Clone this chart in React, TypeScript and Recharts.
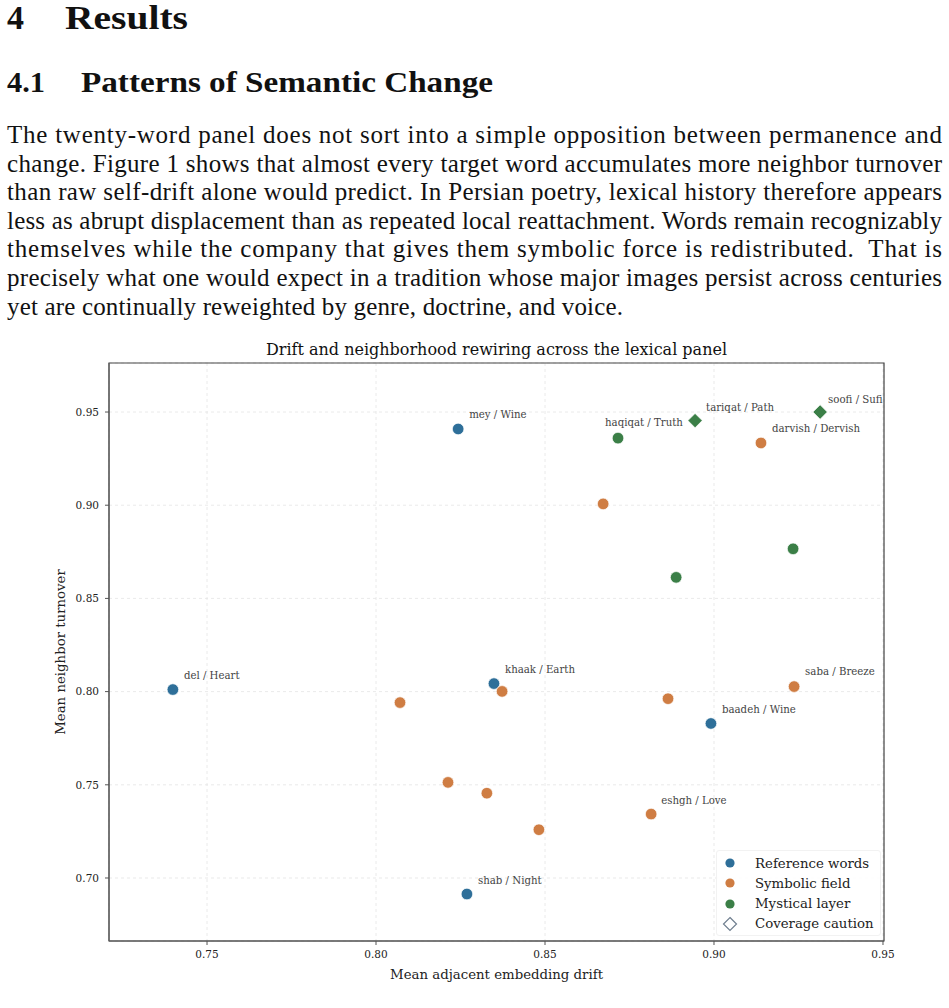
import React from 'react';
import { ScatterChart, Scatter, XAxis, YAxis, CartesianGrid, ReferenceArea } from 'recharts';

// ---------- data ----------
const referenceWords = [
  { label: 'mey / Wine', drift: 0.8243, turnover: 0.9409, caution: false },
  { label: 'del / Heart', drift: 0.7399, turnover: 0.8011, caution: false },
  { label: 'khaak / Earth', drift: 0.8349, turnover: 0.8043, caution: false },
  { label: 'baadeh / Wine', drift: 0.8991, turnover: 0.7829, caution: false },
  { label: 'shab / Night', drift: 0.8269, turnover: 0.6914, caution: false },
];

const symbolicField = [
  { label: 'darvish / Dervish', drift: 0.9139, turnover: 0.9334, caution: false },
  { label: '', drift: 0.8672, turnover: 0.9007, caution: false },
  { label: '', drift: 0.8373, turnover: 0.8001, caution: false },
  { label: '', drift: 0.8071, turnover: 0.7941, caution: false },
  { label: '', drift: 0.8864, turnover: 0.7962, caution: false },
  { label: 'saba / Breeze', drift: 0.9237, turnover: 0.8027, caution: false },
  { label: '', drift: 0.8213, turnover: 0.7513, caution: false },
  { label: '', drift: 0.8328, turnover: 0.7455, caution: false },
  { label: '', drift: 0.8482, turnover: 0.7259, caution: false },
  { label: 'eshgh / Love', drift: 0.8814, turnover: 0.7343, caution: false },
];

const mysticalLayer = [
  { label: 'haqiqat / Truth', drift: 0.8716, turnover: 0.936, caution: false },
  { label: 'tariqat / Path', drift: 0.8944, turnover: 0.9454, caution: true },
  { label: 'soofi / Sufi', drift: 0.9314, turnover: 0.95, caution: true },
  { label: '', drift: 0.9234, turnover: 0.8766, caution: false },
  { label: '', drift: 0.8888, turnover: 0.8613, caution: false },
];

const xTicks = [0.75, 0.8, 0.85, 0.9, 0.95];
const yTicks = [0.7, 0.75, 0.8, 0.85, 0.9, 0.95];
const xDomain = [0.721, 0.9503];
const yDomain = [0.6662, 0.9763];

const legendItems = ['Reference words', 'Symbolic field', 'Mystical layer', 'Coverage caution'];

const headingMain = ['4', 'Results'];
const headingSub = ['4.1', 'Patterns of Semantic Change'];
const paragraphLines = [
  'The twenty-word panel does not sort into a simple opposition between permanence and',
  'change. Figure 1 shows that almost every target word accumulates more neighbor turnover',
  'than raw self-drift alone would predict. In Persian poetry, lexical history therefore appears',
  'less as abrupt displacement than as repeated local reattachment. Words remain recognizably',
  'themselves while the company that gives them symbolic force is redistributed.  That is',
  'precisely what one would expect in a tradition whose major images persist across centuries',
  'yet are continually reweighted by genre, doctrine, and voice.',
];

// ---------- styles ----------
const COLORS = { ref: '#2e6f99', sym: '#cf7d43', mys: '#3b7f47', caution: '#6f7f8f' };
const SERIF = "'DejaVu Serif', serif";
const PAPER = "'Liberation Serif', serif";
const labelOffsets: Record<string, [number, number]> = {
  'haqiqat / Truth': [-13, -16],
  'soofi / Sufi': [8, -13],
  'tariqat / Path': [11, -13],
  'saba / Breeze': [11, -15],
  'eshgh / Love': [10, -14],
};
const DEFAULT_OFFSET: [number, number] = [11, -14];

const makeShape = (color: string) => (props: any) => {
  const { cx, cy, payload } = props;
  if (cx == null || cy == null) return <g />;
  const off = labelOffsets[payload.label] ?? DEFAULT_OFFSET;
  const d = 7.2;
  return (
    <g>
      {payload.caution ? (
        <path
          d={`M${cx},${cy - d} L${cx + d},${cy} L${cx},${cy + d} L${cx - d},${cy} Z`}
          fill={color}
          stroke="#fff"
          strokeWidth={0.7}
        />
      ) : (
        <circle cx={cx} cy={cy} r={5.8} fill={color} stroke="#fff" strokeWidth={0.7} />
      )}
      {payload.label ? (
        <text
          x={cx + off[0]}
          y={cy + off[1]}
          fontSize={10.2}
          fill="#444"
          fontFamily={SERIF}
          dominantBaseline="central"
        >
          {payload.label}
        </text>
      ) : null}
    </g>
  );
};

const YAxisLabel = (props: any) => {
  const vb = props.viewBox || { x: 49, y: 23, width: 60, height: 578 };
  const x = vb.x + 11;
  const y = vb.y + vb.height / 2;
  return (
    <text
      x={x}
      y={y}
      transform={`rotate(-90, ${x}, ${y})`}
      textAnchor="middle"
      dominantBaseline="central"
      fontSize={13.3}
      fontFamily={SERIF}
      fill="#222"
    >
      Mean neighbor turnover
    </text>
  );
};

const XAxisLabel = (props: any) => {
  const vb = props.viewBox || { x: 109, y: 601, width: 775, height: 40 };
  return (
    <text
      x={vb.x + vb.width / 2}
      y={vb.y + 33}
      textAnchor="middle"
      dominantBaseline="central"
      fontSize={13.3}
      fontFamily={SERIF}
      fill="#222"
    >
      Mean adjacent embedding drift
    </text>
  );
};

const legendColors = [COLORS.ref, COLORS.sym, COLORS.mys, null];

export default function App() {
  return (
    <div style={{ position: 'absolute', left: 0, top: 0, width: 949, height: 1008, background: '#fff', overflow: 'hidden' }}>
      {/* Page text */}
      <svg width={949} height={330} style={{ position: 'absolute', left: 0, top: 0 }}>
        <text x={7} y={29} fontFamily={PAPER} fontWeight="bold" fontSize={34} fill="#111" textLength={17} lengthAdjust="spacingAndGlyphs">
          {headingMain[0]}
        </text>
        <text x={65} y={29} fontFamily={PAPER} fontWeight="bold" fontSize={34} fill="#111" textLength={123} lengthAdjust="spacingAndGlyphs">
          {headingMain[1]}
        </text>
        <text x={7} y={92} fontFamily={PAPER} fontWeight="bold" fontSize={29.5} fill="#111" textLength={38} lengthAdjust="spacingAndGlyphs">
          {headingSub[0]}
        </text>
        <text x={81} y={92} fontFamily={PAPER} fontWeight="bold" fontSize={29.5} fill="#111" textLength={412} lengthAdjust="spacingAndGlyphs">
          {headingSub[1]}
        </text>
        {paragraphLines.map((line, i) => (
          <text
            key={i}
            x={7}
            y={143 + i * 28.6}
            fontFamily={PAPER}
            fontSize={25}
            fill="#111"
            textLength={i < paragraphLines.length - 1 ? 935 : 616}
            lengthAdjust="spacing"
            style={{ whiteSpace: 'pre' }}
          >
            {line}
          </text>
        ))}
      </svg>

      {/* Chart title */}
      <div
        style={{
          position: 'absolute',
          left: 109,
          top: 340,
          width: 775,
          textAlign: 'center',
          fontFamily: SERIF,
          fontSize: 16,
          lineHeight: '20px',
          color: '#111',
        }}
      >
        Drift and neighborhood rewiring across the lexical panel
      </div>

      <div style={{ position: 'absolute', left: 0, top: 340 }}>
        <ScatterChart width={949} height={660} margin={{ top: 23, right: 65, left: 49, bottom: 19 }}>
          <CartesianGrid strokeDasharray="3 3" stroke="#e4e4e4" strokeWidth={0.8} />
          <XAxis
            type="number"
            dataKey="drift"
            domain={xDomain}
            ticks={xTicks}
            tickFormatter={(v: number) => v.toFixed(2)}
            height={40}
            tickSize={4}
            tickMargin={6}
            axisLine={{ stroke: '#555', strokeWidth: 1.2 }}
            tickLine={{ stroke: '#555' }}
            tick={{ fontSize: 10.5, fill: '#222', fontFamily: SERIF }}
            label={XAxisLabel}
          />
          <YAxis
            type="number"
            dataKey="turnover"
            domain={yDomain}
            ticks={yTicks}
            tickFormatter={(v: number) => v.toFixed(2)}
            width={60}
            tickSize={4}
            tickMargin={6}
            axisLine={{ stroke: '#666', strokeWidth: 1.2 }}
            tickLine={{ stroke: '#555' }}
            tick={{ fontSize: 10.5, fill: '#222', fontFamily: SERIF }}
            label={YAxisLabel}
          />
          <ReferenceArea
            x1={xDomain[0]}
            x2={xDomain[1]}
            y1={yDomain[0]}
            y2={yDomain[1]}
            fill="none"
            stroke="#444"
            strokeWidth={1.2}
            ifOverflow="visible"
          />
          <Scatter name="Reference words" data={referenceWords} fill={COLORS.ref} shape={makeShape(COLORS.ref)} isAnimationActive={false} />
          <Scatter name="Symbolic field" data={symbolicField} fill={COLORS.sym} shape={makeShape(COLORS.sym)} isAnimationActive={false} />
          <Scatter name="Mystical layer" data={mysticalLayer} fill={COLORS.mys} shape={makeShape(COLORS.mys)} isAnimationActive={false} />
        </ScatterChart>
      </div>

      {/* Legend */}
      <div
        style={{
          position: 'absolute',
          left: 716,
          top: 850,
          width: 165,
          height: 86,
          background: 'rgba(255,255,255,0.9)',
          border: '1px solid #f2f2f2',
          borderRadius: 3,
          boxSizing: 'border-box',
        }}
      >
        {legendItems.map((name, i) => (
          <div
            key={name}
            style={{
              position: 'absolute',
              left: 0,
              top: 2 + i * 20.3,
              height: 20,
              width: 165,
              display: 'flex',
              alignItems: 'center',
            }}
          >
            <svg width={30} height={20} style={{ flex: 'none' }}>
              {legendColors[i] ? (
                <circle cx={13} cy={10} r={4.6} fill={legendColors[i] as string} />
              ) : (
                <path d="M13,3.5 L19.5,10 L13,16.5 L6.5,10 Z" fill="none" stroke={COLORS.caution} strokeWidth={1.2} />
              )}
            </svg>
            <span style={{ marginLeft: 8, fontFamily: SERIF, fontSize: 13.3, color: '#222', whiteSpace: 'nowrap' }}>{name}</span>
          </div>
        ))}
      </div>
    </div>
  );
}
